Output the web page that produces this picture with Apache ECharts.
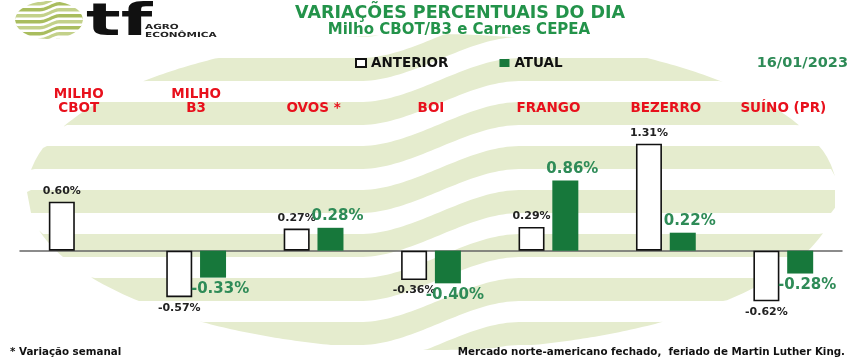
<!DOCTYPE html>
<html><head><meta charset="utf-8">
<script src="https://cdn.jsdelivr.net/npm/echarts/dist/echarts.min.js"></script>
<style>html,body{margin:0;padding:0;background:#fff}#c{width:857px;height:360px}</style>
</head><body><div id="c"></div>
<script>
const categories = ['MILHO\nCBOT', 'MILHO\nB3', 'OVOS *', 'BOI', 'FRANGO', 'BEZERRO', 'SUÍNO (PR)'];
const anterior = [0.60, -0.57, 0.27, -0.36, 0.29, 1.31, -0.62];
const atual = [null, -0.33, 0.28, -0.40, 0.86, 0.22, -0.28];
const seriesNames = ['ANTERIOR', 'ATUAL'];
const titleText = 'VARIAÇÕES PERCENTUAIS DO DIA';
const subtitleText = 'Milho CBOT/B3 e Carnes CEPEA';
const dateText = '16/01/2023';
const footLeft = '* Variação semanal';
const footRight = 'Mercado norte-americano fechado,  feriado de Martin Luther King.';

const FONT = 'DejaVu Sans';

// decorative watermark stripes (logo motif)
function stripePolys(cx, cy, rx, ry, tops, thick, shift, sx0, sx1, step) {
  const polys = [];
  tops.forEach(function (t) {
    const topPts = [], botPts = [];
    for (let x = cx - rx; x <= cx + rx + 0.01; x += step) {
      const u = (x - cx) / rx;
      const h = ry * Math.sqrt(Math.max(0, 1 - u * u));
      const eT = cy - h, eB = cy + h;
      let s = (x - sx0) / (sx1 - sx0);
      s = Math.min(1, Math.max(0, s));
      s = s * s * (3 - 2 * s);
      const base = t - shift * s;
      let yt = Math.max(base, eT), yb = Math.min(base + thick, eB);
      if (yt > yb) { const c = Math.min(Math.max(base, eT), eB); yt = c; yb = c; }
      topPts.push([x, yt]); botPts.push([x, yb]);
    }
    polys.push(topPts.concat(botPts.reverse()));
  });
  return polys;
}

const graphics = [];
stripePolys(432, 192, 405, 158, [14, 58, 102, 146, 190, 234, 278, 322, 366], 23, 44, 360, 520, 4)
  .forEach(function (pts) {
    graphics.push({ type: 'polygon', silent: true, z: -10, shape: { points: pts }, style: { fill: '#e5ecce' } });
  });
stripePolys(49, 20, 34, 19, [-4, 2, 8, 14, 20, 26, 32, 38, 44], 3.4, 6, 40, 60, 1)
  .forEach(function (pts, i) {
    graphics.push({ type: 'polygon', silent: true, z: -5, shape: { points: pts }, style: { fill: i % 2 ? '#c3d18a' : '#a9bd5e' } });
  });
// logo text
graphics.push({ type: 'text', x: 86, y: 2, scaleX: 1.65, z: 5,
  style: { text: 'tf', font: 'bold 44px "' + FONT + '"', fill: '#111', textVerticalAlign: 'top' } });
graphics.push({ type: 'text', x: 145, y: 27, scaleX: 1.5, z: 5,
  style: { text: 'AGRO', font: 'bold 7px "' + FONT + '"', fill: '#222', textVerticalAlign: 'middle' } });
graphics.push({ type: 'text', x: 145, y: 35, scaleX: 1.5, z: 5,
  style: { text: 'ECONÔMICA', font: 'bold 7px "' + FONT + '"', fill: '#222', textVerticalAlign: 'middle' } });
// titles
graphics.push({ type: 'text', x: 460, y: 13, z: 5,
  style: { text: titleText, font: 'bold 17.5px "' + FONT + '"', fill: '#23934a', textAlign: 'center', textVerticalAlign: 'middle' } });
graphics.push({ type: 'text', x: 459, y: 30, z: 5,
  style: { text: subtitleText, font: 'bold 15px "' + FONT + '"', fill: '#23934a', textAlign: 'center', textVerticalAlign: 'middle' } });
graphics.push({ type: 'text', x: 848, y: 63, z: 5,
  style: { text: dateText, font: 'bold 14.5px "' + FONT + '"', fill: '#2e8b57', textAlign: 'right', textVerticalAlign: 'middle' } });
graphics.push({ type: 'text', x: 10, y: 352, z: 5,
  style: { text: footLeft, font: 'bold 10.3px "' + FONT + '"', fill: '#111', textAlign: 'left', textVerticalAlign: 'middle' } });
graphics.push({ type: 'text', x: 845, y: 352, z: 5,
  style: { text: footRight, font: 'bold 10.3px "' + FONT + '"', fill: '#111', textAlign: 'right', textVerticalAlign: 'middle' } });

function toData(arr) {
  return arr.map(function (v) {
    return v === null ? '-' : { value: v, label: { position: v >= 0 ? 'top' : 'bottom' } };
  });
}
function fmt(p) { return Number(p.value).toFixed(2) + '%'; }

const chart = echarts.init(document.getElementById('c'), null, { renderer: 'canvas' });
chart.setOption({
  animation: false,
  backgroundColor: '#ffffff',
  graphic: graphics,
  legend: {
    left: 355, top: 56, padding: 0, itemGap: 51, itemWidth: 10, itemHeight: 8, icon: 'rect',
    data: seriesNames,
    textStyle: { fontFamily: FONT, fontWeight: 'bold', fontSize: 13.5, color: '#111' }
  },
  grid: { left: 20, right: 15, top: 120, height: 196, containLabel: false },
  xAxis: [{
    type: 'category', data: categories,
    axisLine: { onZero: true, lineStyle: { color: '#666', width: 1.5 } },
    axisTick: { show: false }, axisLabel: { show: false }
  }, {
    type: 'category', data: categories, position: 'top',
    axisLine: { show: false }, axisTick: { show: false },
    axisLabel: { interval: 0, margin: 5, color: '#e8101c', fontFamily: FONT, fontWeight: 'bold', fontSize: 13.5, lineHeight: 14 }
  }],
  yAxis: { type: 'value', min: -0.8, max: 1.6, show: false },
  series: [{
    name: seriesNames[0], type: 'bar', xAxisIndex: 0, data: toData(anterior),
    barWidth: 26, barGap: '30%',
    itemStyle: { color: '#ffffff', borderColor: '#111', borderWidth: 1.6 },
    label: { show: true, formatter: fmt, distance: 5, fontFamily: FONT, fontWeight: 'bold', fontSize: 11, color: '#222' }
  }, {
    name: seriesNames[1], type: 'bar', xAxisIndex: 0, data: toData(atual),
    barWidth: 26,
    itemStyle: { color: '#17783b' },
    label: { show: true, formatter: fmt, distance: 4, offset: [7, 0], fontFamily: FONT, fontWeight: 'bold', fontSize: 15, color: '#2e8b57' }
  }]
});
</script>
</body></html>
